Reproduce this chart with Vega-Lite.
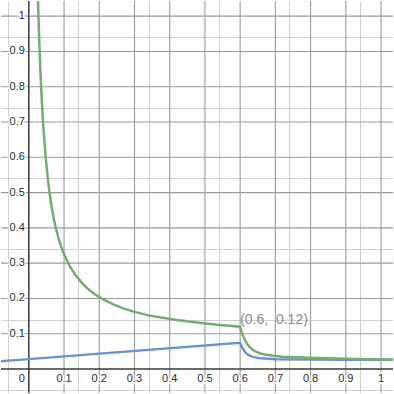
{
  "$schema": "https://vega.github.io/schema/vega-lite/v6.json",
  "width": 394,
  "height": 394,
  "padding": 0,
  "autosize": {"type": "fit", "contains": "padding"},
  "background": "white",
  "view": {"stroke": null},
  "config": {
    "axis": {"labels": false, "ticks": false, "domain": false, "title": null, "grid": true, "gridWidth": 1}
  },
  "datasets": {
    "curves": [
      {"series": "blue", "x": -0.1, "y": 0.020},
      {"series": "blue", "x": 0.0, "y": 0.028},
      {"series": "blue", "x": 0.6, "y": 0.0745},
      {"series": "blue", "x": 0.603, "y": 0.067},
      {"series": "blue", "x": 0.607, "y": 0.059},
      {"series": "blue", "x": 0.612, "y": 0.051},
      {"series": "blue", "x": 0.618, "y": 0.044},
      {"series": "blue", "x": 0.625, "y": 0.039},
      {"series": "blue", "x": 0.635, "y": 0.035},
      {"series": "blue", "x": 0.65, "y": 0.0315},
      {"series": "blue", "x": 0.67, "y": 0.0295},
      {"series": "blue", "x": 0.7, "y": 0.028},
      {"series": "blue", "x": 0.8, "y": 0.027},
      {"series": "blue", "x": 0.9, "y": 0.0265},
      {"series": "blue", "x": 1.05, "y": 0.026},
      {"series": "green", "x": 0.024, "y": 1.128},
      {"series": "green", "x": 0.026, "y": 1.047},
      {"series": "green", "x": 0.028, "y": 0.978},
      {"series": "green", "x": 0.030, "y": 0.918},
      {"series": "green", "x": 0.033, "y": 0.842},
      {"series": "green", "x": 0.036, "y": 0.778},
      {"series": "green", "x": 0.040, "y": 0.705},
      {"series": "green", "x": 0.044, "y": 0.648},
      {"series": "green", "x": 0.048, "y": 0.600},
      {"series": "green", "x": 0.053, "y": 0.548},
      {"series": "green", "x": 0.058, "y": 0.505},
      {"series": "green", "x": 0.064, "y": 0.465},
      {"series": "green", "x": 0.070, "y": 0.430},
      {"series": "green", "x": 0.077, "y": 0.398},
      {"series": "green", "x": 0.085, "y": 0.368},
      {"series": "green", "x": 0.095, "y": 0.338},
      {"series": "green", "x": 0.105, "y": 0.314},
      {"series": "green", "x": 0.12, "y": 0.285},
      {"series": "green", "x": 0.135, "y": 0.263},
      {"series": "green", "x": 0.15, "y": 0.245},
      {"series": "green", "x": 0.17, "y": 0.225},
      {"series": "green", "x": 0.19, "y": 0.210},
      {"series": "green", "x": 0.21, "y": 0.198},
      {"series": "green", "x": 0.24, "y": 0.183},
      {"series": "green", "x": 0.27, "y": 0.171},
      {"series": "green", "x": 0.30, "y": 0.162},
      {"series": "green", "x": 0.34, "y": 0.152},
      {"series": "green", "x": 0.38, "y": 0.145},
      {"series": "green", "x": 0.42, "y": 0.139},
      {"series": "green", "x": 0.46, "y": 0.134},
      {"series": "green", "x": 0.50, "y": 0.129},
      {"series": "green", "x": 0.55, "y": 0.124},
      {"series": "green", "x": 0.60, "y": 0.120},
      {"series": "green", "x": 0.603, "y": 0.108},
      {"series": "green", "x": 0.606, "y": 0.099},
      {"series": "green", "x": 0.610, "y": 0.090},
      {"series": "green", "x": 0.615, "y": 0.080},
      {"series": "green", "x": 0.620, "y": 0.071},
      {"series": "green", "x": 0.627, "y": 0.062},
      {"series": "green", "x": 0.635, "y": 0.055},
      {"series": "green", "x": 0.645, "y": 0.049},
      {"series": "green", "x": 0.655, "y": 0.045},
      {"series": "green", "x": 0.67, "y": 0.041},
      {"series": "green", "x": 0.69, "y": 0.038},
      {"series": "green", "x": 0.72, "y": 0.035},
      {"series": "green", "x": 0.76, "y": 0.033},
      {"series": "green", "x": 0.82, "y": 0.031},
      {"series": "green", "x": 0.9, "y": 0.029},
      {"series": "green", "x": 1.0, "y": 0.027},
      {"series": "green", "x": 1.05, "y": 0.026}
    ],
    "xticks": [
      {"v": 0.1, "label": "0.1"}, {"v": 0.2, "label": "0.2"}, {"v": 0.3, "label": "0.3"},
      {"v": 0.4, "label": "0.4"}, {"v": 0.5, "label": "0.5"}, {"v": 0.6, "label": "0.6"},
      {"v": 0.7, "label": "0.7"}, {"v": 0.8, "label": "0.8"}, {"v": 0.9, "label": "0.9"},
      {"v": 1, "label": "1"}
    ],
    "origin": [{"x": 0, "y": 0, "label": "0"}],
    "point": [{"x": 0.6, "y": 0.12, "label": "(0.6,\u00a0 0.12)"}]
  },
  "layer": [
    {
      "data": {"name": "xticks"},
      "mark": {"type": "rule", "color": "#9a9a9a", "strokeWidth": 1.1},
      "encoding": {
        "x": {"field": "v", "type": "quantitative",
              "scale": {"domain": [-0.079, 1.034], "nice": false, "zero": false},
              "axis": {"gridColor": "#d0d0d0", "values": [-0.06,-0.04,-0.02,0.02,0.04,0.06,0.08,0.12,0.14,0.16,0.18,0.22,0.24,0.26,0.28,0.32,0.34,0.36,0.38,0.42,0.44,0.46,0.48,0.52,0.54,0.56,0.58,0.62,0.64,0.66,0.68,0.72,0.74,0.76,0.78,0.82,0.84,0.86,0.88,0.92,0.94,0.96,0.98,1.02]}}
      }
    },
    {
      "data": {"name": "xticks"},
      "mark": {"type": "rule", "color": "#9a9a9a", "strokeWidth": 1.1},
      "encoding": {
        "y": {"field": "v", "type": "quantitative",
              "scale": {"domain": [-0.068, 1.043], "nice": false, "zero": false},
              "axis": {"gridColor": "#d0d0d0", "values": [-0.06,-0.04,-0.02,0.02,0.04,0.06,0.08,0.12,0.14,0.16,0.18,0.22,0.24,0.26,0.28,0.32,0.34,0.36,0.38,0.42,0.44,0.46,0.48,0.52,0.54,0.56,0.58,0.62,0.64,0.66,0.68,0.72,0.74,0.76,0.78,0.82,0.84,0.86,0.88,0.92,0.94,0.96,0.98,1.02,1.04]}}
      }
    },
    {
      "data": {"name": "origin"},
      "mark": {"type": "rule", "color": "#3a3a3a", "strokeWidth": 1.5},
      "encoding": {"x": {"field": "x", "type": "quantitative"}}
    },
    {
      "data": {"name": "origin"},
      "mark": {"type": "rule", "color": "#3a3a3a", "strokeWidth": 1.5},
      "encoding": {"y": {"field": "y", "type": "quantitative"}}
    },
    {
      "data": {"name": "curves"},
      "mark": {"type": "line", "strokeWidth": 2.5, "clip": true},
      "encoding": {
        "x": {"field": "x", "type": "quantitative"},
        "y": {"field": "y", "type": "quantitative"},
        "color": {"field": "series", "type": "nominal", "legend": null,
                  "scale": {"domain": ["blue", "green"], "range": ["#6b93cf", "#74ad70"]}}
      }
    },
    {
      "data": {"name": "origin"},
      "mark": {"type": "text", "font": "Liberation Sans", "fontSize": 11, "color": "#2a2a2a", "baseline": "middle", "align": "right", "dx": -4, "dy": 10},
      "encoding": {"x": {"field": "x", "type": "quantitative"}, "y": {"field": "y", "type": "quantitative"}, "text": {"field": "label"}}
    },
    {
      "data": {"name": "xticks"},
      "mark": {"type": "text", "font": "Liberation Sans", "fontSize": 11, "color": "white", "stroke": "white", "strokeWidth": 3, "baseline": "middle", "dy": 10},
      "encoding": {"x": {"field": "v", "type": "quantitative"}, "y": {"datum": 0}, "text": {"field": "label"}}
    },
    {
      "data": {"name": "xticks"},
      "mark": {"type": "text", "font": "Liberation Sans", "fontSize": 11, "color": "#2a2a2a", "baseline": "middle", "dy": 10},
      "encoding": {"x": {"field": "v", "type": "quantitative"}, "y": {"datum": 0}, "text": {"field": "label"}}
    },
    {
      "data": {"name": "xticks"},
      "mark": {"type": "text", "font": "Liberation Sans", "fontSize": 11, "color": "white", "stroke": "white", "strokeWidth": 3, "baseline": "middle", "align": "right", "dx": -4},
      "encoding": {"y": {"field": "v", "type": "quantitative"}, "x": {"datum": 0}, "text": {"field": "label"}}
    },
    {
      "data": {"name": "xticks"},
      "mark": {"type": "text", "font": "Liberation Sans", "fontSize": 11, "color": "#2a2a2a", "baseline": "middle", "align": "right", "dx": -4},
      "encoding": {"y": {"field": "v", "type": "quantitative"}, "x": {"datum": 0}, "text": {"field": "label"}}
    },
    {
      "data": {"name": "point"},
      "mark": {"type": "text", "font": "Liberation Sans", "fontSize": 14, "color": "#8c8c8c", "baseline": "middle", "align": "left", "dx": 0, "dy": -7},
      "encoding": {"x": {"field": "x", "type": "quantitative"}, "y": {"field": "y", "type": "quantitative"}, "text": {"field": "label"}}
    }
  ]
}
